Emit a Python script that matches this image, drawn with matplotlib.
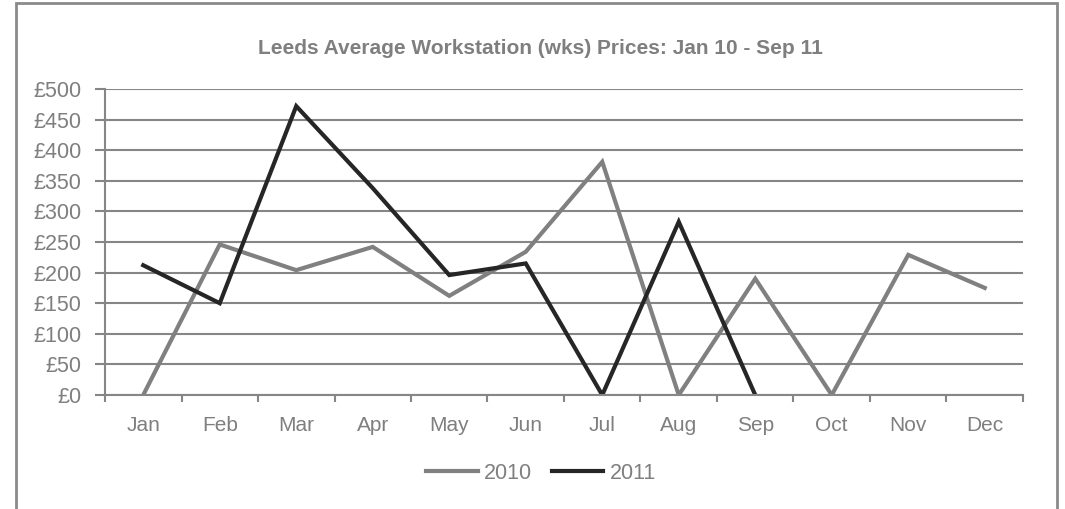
import matplotlib.pyplot as plt
from matplotlib.patches import Rectangle

months = ["Jan", "Feb", "Mar", "Apr", "May", "Jun", "Jul", "Aug", "Sep", "Oct", "Nov", "Dec"]
prices_2010 = [0, 246, 204, 242, 162, 234, 381, 0, 190, 0, 229, 175]
prices_2011 = [212, 150, 472, 338, 196, 215, 0, 283, 0]
y_ticks = [0, 50, 100, 150, 200, 250, 300, 350, 400, 450, 500]

plt.rcParams['font.family'] = ['Liberation Sans', 'DejaVu Sans']
text_grey = '#7f7f7f'
grid_grey = '#868686'

fig = plt.figure(figsize=(10.65, 5.09), dpi=100)
ax = fig.add_axes([105 / 1065, 1 - 395 / 509, 918 / 1065, 306 / 509])

# outer chart frame (bottom edge runs off the picture)
frame = Rectangle((16 / 1065, -0.2), 1041 / 1065, 1.2 - 3 / 509, transform=fig.transFigure,
                  fill=False, edgecolor='#8a8a8a', linewidth=2, clip_on=False)
fig.patches.append(frame)

x = list(range(len(months)))
ax.plot(x, prices_2010, color='#808080', linewidth=3, label='2010', solid_joinstyle='miter')
ax.plot(x[:len(prices_2011)], prices_2011, color='#262626', linewidth=3, label='2011',
        solid_joinstyle='miter')

ax.set_xlim(-0.5, len(months) - 0.5)
ax.set_ylim(0, 500)
ax.set_yticks(y_ticks)
ax.set_yticklabels(["£%d" % v for v in y_ticks])
ax.set_xticks(x)
ax.set_xticklabels(months)
ax.set_xticks([i - 0.5 for i in range(len(months) + 1)], minor=True)

ax.yaxis.grid(True, color=grid_grey, linewidth=1.5)
ax.set_axisbelow(True)
for s in ['top', 'right']:
    ax.spines[s].set_visible(False)
for s in ['left', 'bottom']:
    ax.spines[s].set_color(grid_grey)
    ax.spines[s].set_linewidth(1.5)

ax.tick_params(axis='x', which='major', length=0, pad=15, labelsize=15, labelcolor=text_grey)
ax.tick_params(axis='x', which='minor', length=5, width=1.5, color=grid_grey)
ax.tick_params(axis='y', length=7, width=1.5, color=grid_grey, labelsize=15.5,
               labelcolor=text_grey, pad=10)

fig.text(540 / 1065, 1 - 48 / 509, "Leeds Average Workstation (wks) Prices: Jan 10 - Sep 11",
         ha='center', va='center', fontsize=15, fontweight='bold', color=text_grey)

leg = ax.legend(loc='center', bbox_to_anchor=(0.475, -0.255), ncol=2, frameon=False,
                fontsize=15.5, handlelength=2.4, handletextpad=0.3, columnspacing=0.9)
for t in leg.get_texts():
    t.set_color(text_grey)

fig.savefig('out.png', dpi=100, facecolor='white')
